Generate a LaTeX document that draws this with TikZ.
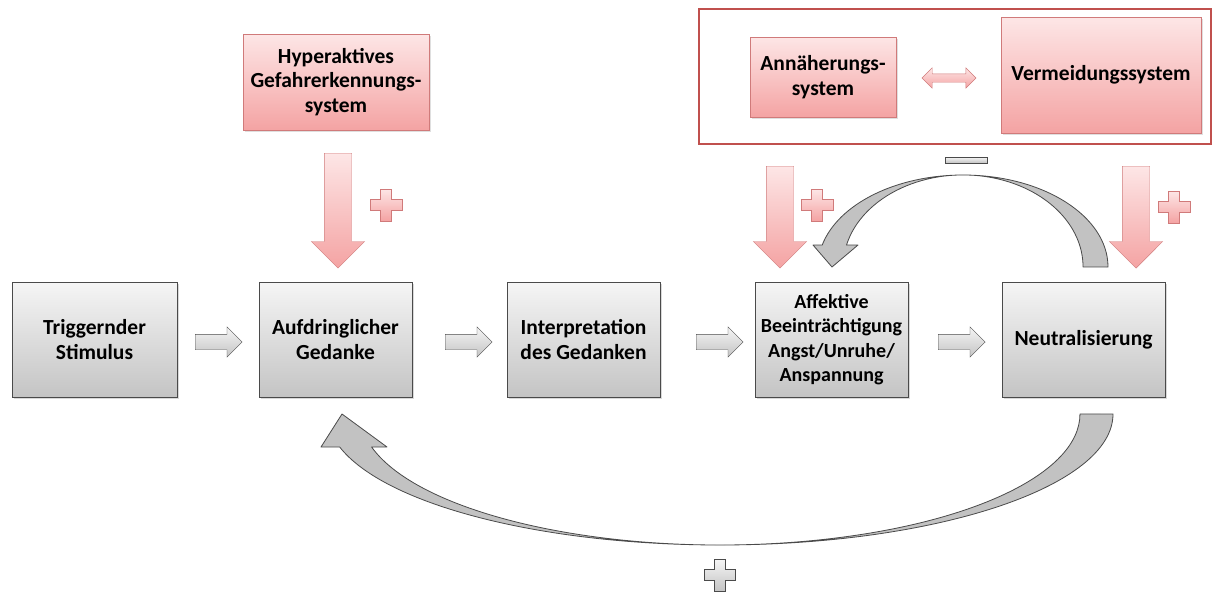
\documentclass[tikz,border=0pt]{standalone}
\usepackage{fontspec}
\setmainfont{Carlito}
\usetikzlibrary{shapes.arrows, shadows, positioning, calc}

\definecolor{graytop}{HTML}{F5F5F5}
\definecolor{graybot}{HTML}{C4C4C4}
\definecolor{boxline}{HTML}{4A4A4A}
\definecolor{pinktop}{HTML}{FDE6E6}
\definecolor{pinkbot}{HTML}{F4A3A3}
\definecolor{pinkline}{HTML}{D07A7A}
\definecolor{framered}{HTML}{C0504D}
\definecolor{loopfill}{HTML}{C2C2C2}

\begin{document}
\begin{tikzpicture}[
    x=1pt, y=-1pt,
    font=\fontsize{21.5}{24.5}\selectfont\bfseries,
    stage/.style={rectangle, draw=boxline, top color=graytop, bottom color=graybot, minimum width=153pt, minimum height=115pt, align=center, inner sep=1pt, drop shadow={opacity=0.3, shadow xshift=1.5pt, shadow yshift=-1.5pt}},
    system/.style={rectangle, draw=pinkline, top color=pinktop, bottom color=pinkbot, align=center, inner sep=2pt, drop shadow={opacity=0.25, shadow xshift=1.5pt, shadow yshift=-1.5pt}},
    flow/.style={single arrow, anchor=tail, draw=boxline, top color=graytop, bottom color=graybot, minimum height=47pt, minimum width=30pt, single arrow head extend=7.5pt, inner xsep=0pt, inner ysep=7.5pt},
    push/.style={single arrow, anchor=tail, rotate=-90, draw=pinkline, top color=pinktop, bottom color=pinkbot, minimum width=53pt, single arrow head extend=13pt, inner xsep=0pt, inner ysep=13.5pt},
    feedback/.style={draw=boxline, fill=loopfill, line width=0.8pt, line join=round},
    signgray/.style={draw=boxline, top color=graytop, bottom color=graybot},
    signpink/.style={draw=pinkline, top color=pinktop, bottom color=pinkbot}
]
    \useasboundingbox (0,0) rectangle (1213,592);

    \node[stage, minimum width=165pt] (trig) at (94.5,339.5) {Triggernder\\Stimulus};
    \node[stage] (gedanke) at (335.5,339.5) {Aufdringlicher\\Gedanke};
    \node[stage] (interp) at (583.5,339.5) {Interpretation\\des Gedanken};
    \node[stage, font=\fontsize{20}{24.5}\selectfont\bfseries] (affekt) at (831.5,339.5) {Affektive\\Beeinträchtigung\\Angst/Unruhe/\\Anspannung};
    \node[stage, minimum width=163pt] (neutral) at (1083.5,339.5) {Neutralisierung};

    \foreach \target/\x in {gedanke/195, interp/445, affekt/696, neutral/938} {
        \node[flow] (to-\target) at (\x,342) {};
    }

    \node[system, minimum width=186pt, minimum height=96pt] (hyper) at (336,82) {Hyperaktives\\Gefahrerkennungs-\\system};

    \draw[framered, line width=1.6pt] (699,9) rectangle (1211,144);
    \node[system, minimum width=146pt, minimum height=80pt] (annae) at (823,77) {Annäherungs-\\system};
    \node[system, minimum width=200pt, minimum height=116pt] (vermeid) at (1101,75) {Vermeidungssystem};
    \node[double arrow, draw=pinkline, top color=pinktop, bottom color=pinkbot, minimum height=54pt, minimum width=20pt, double arrow head extend=6pt, inner xsep=0pt, inner ysep=4pt] (wechsel) at (949,78) {};

    \node[push, minimum height=115pt] (hyperpush) at (338,153) {};
    \node[push, minimum height=102pt] (annaepush) at (780,166) {};
    \node[push, minimum height=102pt] (vermeidpush) at (1136,166) {};

    \foreach \px/\py in {386/205, 817/205, 1174/207} {
        \draw[signpink] (\px-5.5,\py-16) -- ++(11,0) -- ++(0,10.5) -- ++(10.5,0) -- ++(0,11) -- ++(-10.5,0) -- ++(0,10.5) -- ++(-11,0) -- ++(0,-10.5) -- ++(-10.5,0) -- ++(0,-11) -- ++(10.5,0) -- cycle;
    }
    \draw[signgray] (714.5,559) -- ++(11,0) -- ++(0,10.5) -- ++(10,0) -- ++(0,11) -- ++(-10,0) -- ++(0,10.5) -- ++(-11,0) -- ++(0,-10.5) -- ++(-10,0) -- ++(0,-11) -- ++(10,0) -- cycle;
    \node[signgray, minimum width=42pt, minimum height=6pt, inner sep=0pt] (minus) at (966,160) {};

    \draw[feedback] (1108,267) arc[start angle=0, end angle=-166.2, x radius=145, y radius=92] -- (813,245) -- (832,267) -- (858,245) -- (846.5,245) arc[start angle=-166.2, end angle=0, x radius=120, y radius=92] -- cycle;

    \draw[feedback] (1113,414) arc[start angle=0, end angle=165.4, x radius=393, y radius=131] -- (321,447) -- (342,414) -- (387,447) -- (371.6,447) arc[start angle=165.4, end angle=0, x radius=360, y radius=131] -- cycle;
\end{tikzpicture}
\end{document}
